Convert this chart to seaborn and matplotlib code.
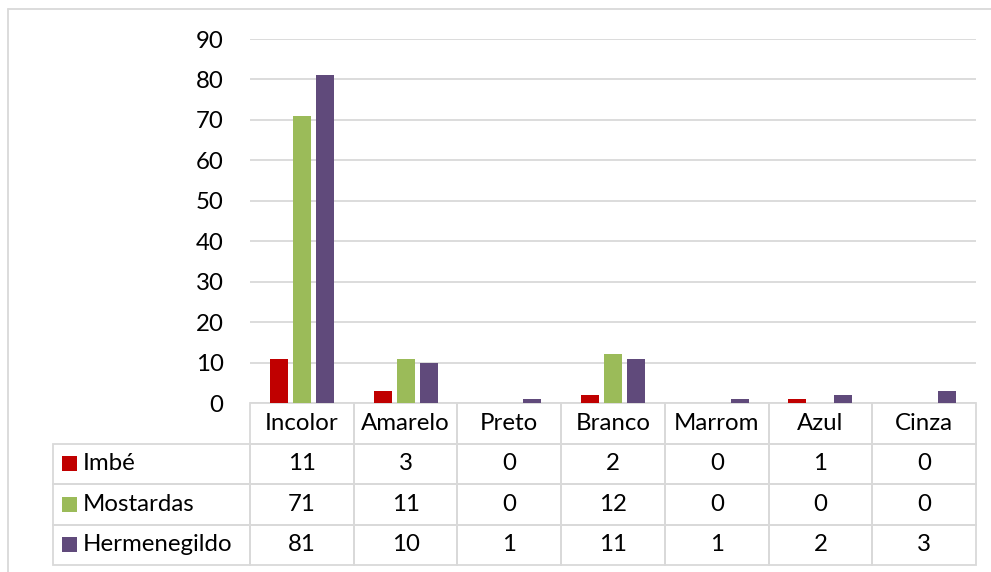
import matplotlib.pyplot as plt
import pandas as pd
import seaborn as sns
from matplotlib.lines import Line2D
from matplotlib.patches import Rectangle

# Chart data
categories = ["Incolor", "Amarelo", "Preto", "Branco", "Marrom", "Azul", "Cinza"]
series = ["Imbé", "Mostardas", "Hermenegildo"]
imbe = [11, 3, 0, 2, 0, 1, 0]
mostardas = [71, 11, 0, 12, 0, 0, 0]
hermenegildo = [81, 10, 1, 11, 1, 2, 3]
colors = ["#C00000", "#9BBB59", "#604A7B"]
yticks = [0, 10, 20, 30, 40, 50, 60, 70, 80, 90]

values = [imbe, mostardas, hermenegildo]
df = pd.DataFrame(
    [(c, s, v) for s, vals in zip(series, values) for c, v in zip(categories, vals)],
    columns=["cor", "local", "valor"],
)

sns.set_theme(style="white")
plt.rcParams["font.family"] = ["Lato", "DejaVu Sans"]
FS = 17.3
GRID = "#D9D9D9"

fig = plt.figure(figsize=(9.91, 5.72), dpi=100)
ax = fig.add_axes([250 / 991, 169 / 572, 726 / 991, 364 / 572])

sns.barplot(
    data=df, x="cor", y="valor", hue="local",
    order=categories, hue_order=series,
    palette=dict(zip(series, colors)), saturation=1,
    width=0.666, gap=0.216, legend=False, ax=ax,
    edgecolor="none", linewidth=0,
)

ax.set_xlim(-0.5, len(categories) - 0.5)
ax.set_ylim(0, 90)
ax.set_yticks(yticks)
ax.set_xticks([])
ax.set_xlabel("")
ax.set_ylabel("")
ax.yaxis.grid(True, color=GRID, linewidth=1.3)
ax.set_axisbelow(True)
for sp in ax.spines.values():
    sp.set_visible(False)
ax.tick_params(axis="y", length=0, pad=19, labelsize=FS, labelcolor="black")

# Data table below the plot
cell_text = [[""] + categories]
for name, vals in zip(series, values):
    cell_text.append([name] + [str(v) for v in vals])

first_w = 197 / 726
tab_h = 162 / 364
col_w = [197] + [726 / len(categories)] * len(categories)
tab = ax.table(
    cellText=cell_text, colWidths=col_w, cellLoc="center",
    bbox=[-first_w, -tab_h, 1 + first_w, tab_h],
)
tab.auto_set_font_size(False)
tab.set_fontsize(FS)
tab.set_clip_on(False)
for (r, c), cell in tab.get_celld().items():
    cell.set_edgecolor(GRID)
    cell.set_linewidth(1.3)
    cell.set_facecolor("none")
    cell.get_text().set_color("black")
    if r == 0 and c == 0:
        cell.visible_edges = ""
    elif c == 0:
        cell.get_text().set_horizontalalignment("left")
        cell._loc = "left"
        cell.PAD = 30 / 197

# legend squares in the row-label column
row_h = tab_h / 4
for i, col in enumerate(colors):
    yc = -row_h * (i + 1.5)
    ax.add_patch(Rectangle(
        (-first_w + 9 / 726, yc - 7.5 / 364), 15 / 726, 15 / 364,
        transform=ax.transAxes, facecolor=col, edgecolor="none", clip_on=False,
    ))

# outer chart border (left and top edges visible)
fig.add_artist(Line2D([8 / 991, 8 / 991], [0, 1 - 9 / 572], color=GRID, lw=1.3))
fig.add_artist(Line2D([8 / 991, 1], [1 - 9 / 572, 1 - 9 / 572], color=GRID, lw=1.3))

fig.savefig("out.png", dpi=100)
